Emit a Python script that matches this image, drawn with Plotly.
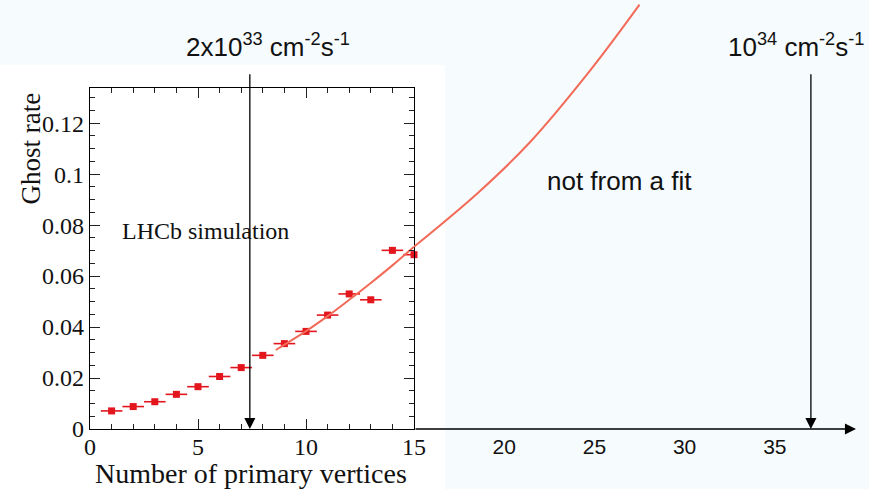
import plotly.graph_objects as go

# ---- data -------------------------------------------------------------
# Ghost rate vs. number of primary vertices (LHCb simulation)
n_pv = [1, 2, 3, 4, 5, 6, 7, 8, 9, 10, 11, 12, 13, 14, 15]
ghost_rate = [0.0071, 0.0088, 0.0107, 0.0136, 0.0166, 0.0206, 0.0241, 0.0289,
              0.0335, 0.0383, 0.0447, 0.0530, 0.0507, 0.0701, 0.0684]
bin_half_width = [0.5, 0.5, 0.5, 0.5, 0.5, 0.5, 0.5, 0.5,
                  0.5, 0.5, 0.5, 0.5, 0.5, 0.5, 0.5]
rate_err = [0.0003, 0.0003, 0.0003, 0.0004, 0.0004, 0.0005, 0.0005, 0.0006,
            0.0006, 0.0007, 0.0008, 0.0009, 0.0009, 0.0012, 0.0012]

# hand-drawn trend (not a fit): part inside the frame ...
trend_x = [8.6, 10, 11, 12, 13, 14, 15]
trend_y = [0.0310, 0.0384, 0.0443, 0.0507, 0.0573, 0.0642, 0.0715]
# ... and its continuation along the extended pile-up axis
ext_x = [15, 18.6, 21.4, 24.8, 27.5]
ext_y = [0.0715, 0.0930, 0.1123, 0.1410, 0.1665]

ext_ticks = [20, 25, 30, 35]

# pile-up expected at two instantaneous luminosities
lumi_pv = [7.4, 37.0]
lumi_labels = ["2x10<sup>33</sup> cm<sup>-2</sup>s<sup>-1</sup>",
               "10<sup>34</sup> cm<sup>-2</sup>s<sup>-1</sup>"]

# ---- layout geometry (pixels) ----------------------------------------
W, H = 869, 489
FR_L, FR_R, FR_T, FR_B = 90, 414, 88, 429   # ROOT frame
EXT_R = 856                                  # end of the extended axis
Y_MAX = 0.1338
X2_MAX = 39.5
Y2_MAX = Y_MAX * FR_B / (FR_B - FR_T)        # same y scale, up to the top edge
ARROW_TOP = 0.1398

RED = "#e3161e"
CURVE = "#f26a58"
SERIF = "Liberation Serif"
SANS = "Liberation Sans"

fig = go.Figure()

fig.add_trace(go.Scatter(
    x=n_pv, y=ghost_rate, mode="markers",
    marker=dict(symbol="square", size=7, color=RED),
    error_x=dict(type="data", array=bin_half_width, color=RED, thickness=1.6, width=0),
    error_y=dict(type="data", array=rate_err, color=RED, thickness=1.6, width=0),
    xaxis="x", yaxis="y", showlegend=False, cliponaxis=False,
))
fig.add_trace(go.Scatter(
    x=trend_x, y=trend_y, mode="lines", line=dict(color=CURVE, width=2, shape="spline"),
    xaxis="x", yaxis="y", showlegend=False,
))
fig.add_trace(go.Scatter(
    x=ext_x, y=ext_y, mode="lines", line=dict(color=CURVE, width=2, shape="spline"),
    xaxis="x2", yaxis="y2", showlegend=False,
))

frame_axis = dict(
    showline=True, linecolor="black", linewidth=1.3, mirror="allticks",
    ticks="inside", ticklen=10, tickwidth=1.2, tickcolor="#222",
    showgrid=False, zeroline=False, automargin=False,
    tickfont=dict(family=SERIF, size=24, color="#111"),
)

annotations = []
# extended x axis drawn as an arrow
annotations.append(dict(
    x=X2_MAX, y=0, ax=15, ay=0, xref="x2", yref="y2", axref="x2", ayref="y2",
    text="", showarrow=True, arrowhead=2, arrowsize=1.7, arrowwidth=1.3, arrowcolor="black",
))
for xv, lab, shift in zip(lumi_pv, lumi_labels, [18, -15]):
    xr = "x" if xv <= 15 else "x2"
    annotations.append(dict(
        x=xv, y=0, ax=xv, ay=ARROW_TOP, xref=xr, yref="y2", axref=xr, ayref="y2",
        text="", showarrow=True, arrowhead=2, arrowsize=1.7, arrowwidth=1.3, arrowcolor="black",
    ))
    annotations.append(dict(
        x=xv, y=1 - 45 / H, xref=xr, yref="paper", xshift=shift,
        text=lab, showarrow=False, xanchor="center", yanchor="middle",
        font=dict(family=SANS, size=26, color="#111"),
    ))
annotations += [
    dict(x=619 / W, y=1 - 181 / H, xref="paper", yref="paper", text="not from a fit",
         xanchor="center", yanchor="middle",
         showarrow=False, font=dict(family=SANS, size=26, color="#111")),
    dict(x=1.4, y=0.0775, xref="x", yref="y", text="LHCb simulation",
         xanchor="left", yanchor="middle",
         showarrow=False, font=dict(family=SERIF, size=24, color="#111")),
    dict(x=30 / W, y=1 - 148.5 / H, xref="paper", yref="paper", text="Ghost rate",
         xanchor="center", yanchor="middle",
         textangle=-90, showarrow=False, font=dict(family=SERIF, size=27, color="#111")),
    dict(x=251 / W, y=1 - 473 / H, xref="paper", yref="paper", text="Number of primary vertices",
         xanchor="center", yanchor="middle",
         showarrow=False, font=dict(family=SERIF, size=28, color="#111")),
]

fig.update_layout(
    template="none",
    width=W, height=H, margin=dict(l=0, r=0, t=0, b=0, pad=0, autoexpand=False),
    paper_bgcolor="#f6fbfd", plot_bgcolor="rgba(0,0,0,0)",
    xaxis=dict(frame_axis, domain=[FR_L / W, FR_R / W], range=[0, 15],
               tickvals=[0, 5, 10, 15], ticktext=["0", "5", "10", "15"],
               ticklabelstandoff=-4,
               minor=dict(dtick=1, ticklen=5, ticks="inside", tickcolor="#222", tickwidth=1.2),
               anchor="y"),
    yaxis=dict(frame_axis, domain=[1 - FR_B / H, 1 - FR_T / H], range=[0, Y_MAX],
               tickvals=[0, 0.02, 0.04, 0.06, 0.08, 0.1, 0.12],
               ticktext=["0", "0.02", "0.04", "0.06", "0.08", "0.1", "0.12"],
               minor=dict(dtick=0.005, ticklen=5, ticks="inside", tickcolor="#222", tickwidth=1.2),
               anchor="x"),
    xaxis2=dict(domain=[FR_R / W, EXT_R / W], range=[15, X2_MAX], anchor="y2",
                showline=False, showgrid=False, zeroline=False, ticks="", automargin=False,
                tickvals=ext_ticks, ticktext=[str(t) for t in ext_ticks],
                ticklabelstandoff=3,
                tickfont=dict(family=SANS, size=21, color="#111")),
    yaxis2=dict(domain=[1 - FR_B / H, 1], range=[0, Y2_MAX], anchor="x2",
                visible=False, showgrid=False, zeroline=False, automargin=False),
    shapes=[dict(type="rect", xref="paper", yref="paper", x0=0, x1=445 / W,
                 y0=0, y1=1 - 65 / H, fillcolor="white", line=dict(width=0), layer="below")],
    annotations=annotations,
)

fig.write_html("out.html")
